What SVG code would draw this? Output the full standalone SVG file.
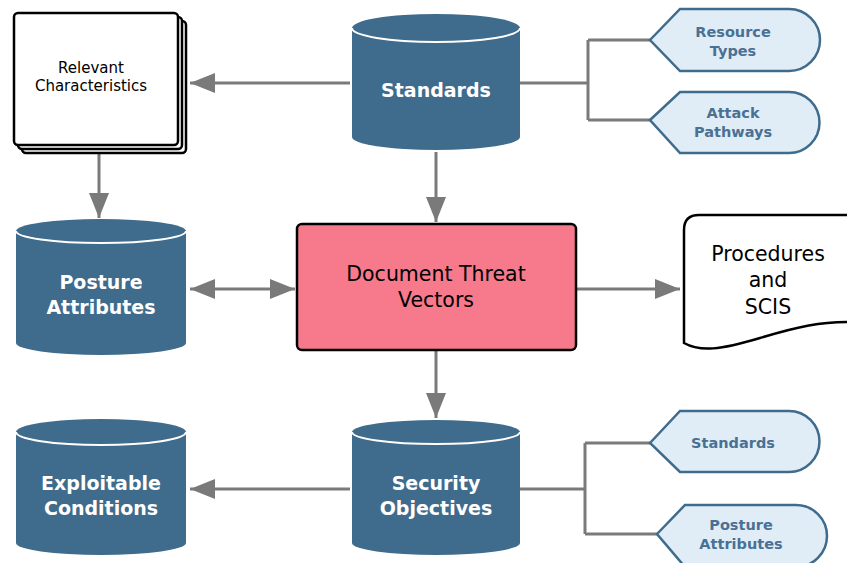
<svg xmlns="http://www.w3.org/2000/svg" width="847" height="563" viewBox="0 0 847 563">
<defs>
<marker id="ah" markerWidth="25" markerHeight="20" refX="25" refY="10" orient="auto" markerUnits="userSpaceOnUse">
<path d="M0,0 L25,10 L0,20 Z" fill="#7a7a7a"/>
</marker>
<marker id="ahs" markerWidth="25" markerHeight="20" refX="0" refY="10" orient="auto" markerUnits="userSpaceOnUse">
<path d="M25,0 L0,10 L25,20 Z" fill="#7a7a7a"/>
</marker>
</defs>
<style>
.cyl{fill:#3f6b8c}
.cylline{fill:none;stroke:#ffffff;stroke-width:2}
.ct{font-family:"DejaVu Sans",sans-serif;font-weight:bold;font-size:19px;fill:#ffffff;text-anchor:middle}
.tag{fill:#e0edf7;stroke:#3f6b8c;stroke-width:2.5}
.tt{font-family:"DejaVu Sans",sans-serif;font-weight:bold;font-size:14.5px;fill:#4a7094;text-anchor:middle}
.doc{fill:#ffffff;stroke:#000000;stroke-width:2.5}
.lt{font-family:"DejaVu Sans",sans-serif;font-size:15px;fill:#000000;text-anchor:middle}
.bt{font-family:"DejaVu Sans",sans-serif;font-size:20.5px;fill:#000000;text-anchor:middle}
.conn{fill:none;stroke:#7a7a7a;stroke-width:3}
</style>
<rect width="847" height="563" fill="#ffffff"/>
<g id="connectors">
<line class="conn" x1="350" y1="83" x2="190" y2="83" marker-end="url(#ah)"/>
<line class="conn" x1="99" y1="153" x2="99" y2="218" marker-end="url(#ah)"/>
<line class="conn" x1="436" y1="152" x2="436" y2="222" marker-end="url(#ah)"/>
<line class="conn" x1="190" y1="289" x2="295" y2="289" marker-start="url(#ahs)" marker-end="url(#ah)"/>
<line class="conn" x1="576" y1="289" x2="680" y2="289" marker-end="url(#ah)"/>
<line class="conn" x1="436" y1="350" x2="436" y2="418" marker-end="url(#ah)"/>
<line class="conn" x1="350" y1="489" x2="190" y2="489" marker-end="url(#ah)"/>
<path class="conn" d="M520,83 H588 M588,40 V120 M588,40 H651 M588,120 H651"/>
<path class="conn" d="M520,489 H585 M585,443 V534 M585,443 H651 M585,534 H658"/>
</g>
<g id="relevant-characteristics">
<rect class="doc" x="22" y="21" width="164" height="132" rx="4"/>
<rect class="doc" x="18" y="17" width="164" height="132" rx="4"/>
<rect class="doc" x="14" y="13" width="164" height="132" rx="4"/>
<text class="lt" x="91" y="73">Relevant</text>
<text class="lt" x="91" y="91">Characteristics</text>
</g>
<g id="standards-db">
<path class="cyl" d="M352,28 A84,14 0 0 1 520,28 L520,137 A84,13 0 0 1 352,137 Z"/>
<path class="cylline" d="M352,28 A84,14 0 0 0 520,28"/>
<text class="ct" x="436" y="97">Standards</text>
</g>
<g id="resource-types">
<path class="tag" d="M650,40 L680,9 L789,9 A31,31 0 0 1 789,71 L680,71 Z"/>
<text class="tt" x="733" y="37">Resource</text>
<text class="tt" x="733" y="56">Types</text>
</g>
<g id="attack-pathways">
<path class="tag" d="M650,120 L680,92 L789,92 A30.5,30.5 0 0 1 789,153 L680,153 Z"/>
<text class="tt" x="733" y="118">Attack</text>
<text class="tt" x="733" y="137">Pathways</text>
</g>
<g id="posture-attributes-db">
<path class="cyl" d="M16,231 A85,12 0 0 1 186,231 L186,343 A85,12 0 0 1 16,343 Z"/>
<path class="cylline" d="M16,231 A85,12 0 0 0 186,231"/>
<text class="ct" x="101" y="289">Posture</text>
<text class="ct" x="101" y="314">Attributes</text>
</g>
<g id="document-threat-vectors">
<rect x="297" y="224" width="279" height="126" rx="5" fill="#f67a8c" stroke="#000000" stroke-width="2.5"/>
<text class="bt" x="436" y="281">Document Threat</text>
<text class="bt" x="436" y="307">Vectors</text>
</g>
<g id="procedures-scis">
<path class="doc" d="M684,230 Q684,215 699,215 L850,215 L850,322 C820,322 800,326 760,338 C720,350 700,352 684,343 Z"/>
<text class="bt" x="768" y="261">Procedures</text>
<text class="bt" x="768" y="287">and</text>
<text class="bt" x="768" y="314">SCIS</text>
</g>
<g id="exploitable-conditions-db">
<path class="cyl" d="M16,432 A85,13 0 0 1 186,432 L186,543 A85,12 0 0 1 16,543 Z"/>
<path class="cylline" d="M16,432 A85,13 0 0 0 186,432"/>
<text class="ct" x="101" y="490">Exploitable</text>
<text class="ct" x="101" y="515">Conditions</text>
</g>
<g id="security-objectives-db">
<path class="cyl" d="M352,432 A84,12 0 0 1 520,432 L520,543 A84,12 0 0 1 352,543 Z"/>
<path class="cylline" d="M352,432 A84,12 0 0 0 520,432"/>
<text class="ct" x="436" y="490">Security</text>
<text class="ct" x="436" y="515">Objectives</text>
</g>
<g id="standards-tag">
<path class="tag" d="M650,443 L680,411 L789,411 A30.5,30.5 0 0 1 789,472 L680,472 Z"/>
<text class="tt" x="733" y="448">Standards</text>
</g>
<g id="posture-attributes-tag">
<path class="tag" d="M657,534 L685,505 L796,505 A31,31 0 0 1 796,567 L685,567 Z"/>
<text class="tt" x="741" y="530">Posture</text>
<text class="tt" x="741" y="549">Attributes</text>
</g>
</svg>
